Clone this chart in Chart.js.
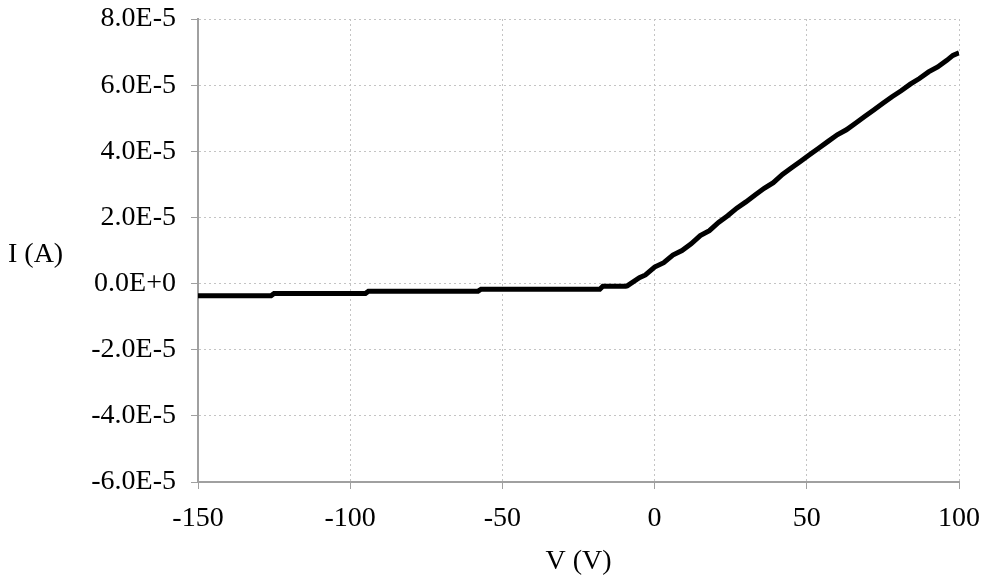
<!DOCTYPE html>
<html>
<head>
<meta charset="utf-8">
<script src="https://cdn.jsdelivr.net/npm/chart.js@4"></script>
<style>
  html, body { margin: 0; padding: 0; background: #fff; }
  #wrap { width: 985px; height: 579px; }
</style>
</head>
<body>
<div id="wrap"><canvas id="ivChart" width="985" height="579"></canvas></div>
<script>
// V (V) values
const voltage = [-150, -126, -125, -95, -94, -58, -57, -18, -17, -9.5,
  -9, -5, -3, 0, 3, 6, 9, 12, 15, 18, 21, 24, 27, 30, 33, 36, 39, 42, 45,
  48, 51, 54, 57, 60, 63, 66, 69, 72, 75, 78, 81, 84, 87, 90, 93, 96, 98, 100];
// I (A)
const current = [-3.7e-6, -3.7e-6, -3.0e-6, -3.0e-6, -2.3e-6, -2.3e-6, -1.7e-6, -1.7e-6, -0.8e-6, -0.8e-6,
  -0.7e-6, 1.8e-6, 2.6e-6, 5.0e-6, 6.3e-6, 8.6e-6, 10.0e-6, 12.0e-6, 14.5e-6, 16.0e-6,
  18.5e-6, 20.5e-6, 22.8e-6, 24.7e-6, 26.8e-6, 28.8e-6, 30.5e-6, 33.0e-6, 35.0e-6,
  37.0e-6, 39.0e-6, 41.0e-6, 43.0e-6, 45.0e-6, 46.5e-6, 48.5e-6, 50.5e-6, 52.5e-6,
  54.5e-6, 56.5e-6, 58.3e-6, 60.3e-6, 62.0e-6, 64.0e-6, 65.5e-6, 67.5e-6, 69.0e-6, 69.8e-6];

const xTicks = [-150, -100, -50, 0, 50, 100];
const yTicks = [-6e-5, -4e-5, -2e-5, 0, 2e-5, 4e-5, 6e-5, 8e-5];

const font = { family: '"Liberation Serif", "Times New Roman", serif', size: 28 };

// Excel style 0.0E+0
function sci(v) {
  if (Math.abs(v) < 1e-12) return '0.0E+0';
  const e = Math.floor(Math.log10(Math.abs(v)) + 1e-9);
  const m = v / Math.pow(10, e);
  return m.toFixed(1) + 'E' + (e < 0 ? '-' : '+') + Math.abs(e);
}

const yTitle = {
  id: 'yTitle',
  afterDraw(chart) {
    const c = chart.ctx;
    c.save();
    c.font = font.size + 'px ' + font.family;
    c.fillStyle = '#000';
    c.textAlign = 'left';
    c.textBaseline = 'middle';
    c.fillText('I (A)', 8, 255);
    c.restore();
  }
};

new Chart(document.getElementById('ivChart'), {
  type: 'line',
  data: {
    datasets: [{
      data: voltage.map((v, i) => ({ x: v, y: current[i] })),
      borderColor: '#000',
      borderWidth: 5,
      pointRadius: 0,
      tension: 0,
      fill: false
    }]
  },
  options: {
    responsive: false,
    animation: false,
    layout: { padding: { left: 0, right: 26, top: 19, bottom: 0 } },
    plugins: { legend: { display: false }, tooltip: { enabled: false } },
    scales: {
      x: {
        type: 'linear',
        min: -150, max: 100,
        afterBuildTicks: s => { s.ticks = xTicks.map(v => ({ value: v })); },
        afterFit: s => { s.height = 97; s.paddingLeft = 0; s.paddingRight = 0; },
        ticks: { color: '#000', font: font, padding: 13, maxRotation: 0 },
        grid: { color: '#c4c4c4', tickColor: '#a0a0a0', tickLength: 7, tickBorderDash: [] },
        border: { color: '#a0a0a0', width: 2, dash: [2, 3] },
        title: { display: true, text: 'V (V)', color: '#000', font: font, padding: { top: 0, bottom: 1 } }
      },
      y: {
        type: 'linear',
        min: -6e-5, max: 8e-5,
        afterBuildTicks: s => { s.ticks = yTicks.map(v => ({ value: v })); },
        afterFit: s => { s.width = 198; s.paddingTop = 0; s.paddingBottom = 0; },
        ticks: { color: '#000', font: font, padding: 15, callback: v => sci(v) },
        grid: { color: '#c4c4c4', tickColor: '#a0a0a0', tickLength: 7, tickBorderDash: [] },
        border: { color: '#a0a0a0', width: 2, dash: [2, 3] }
      }
    }
  },
  plugins: [yTitle]
});
</script>
</body>
</html>
